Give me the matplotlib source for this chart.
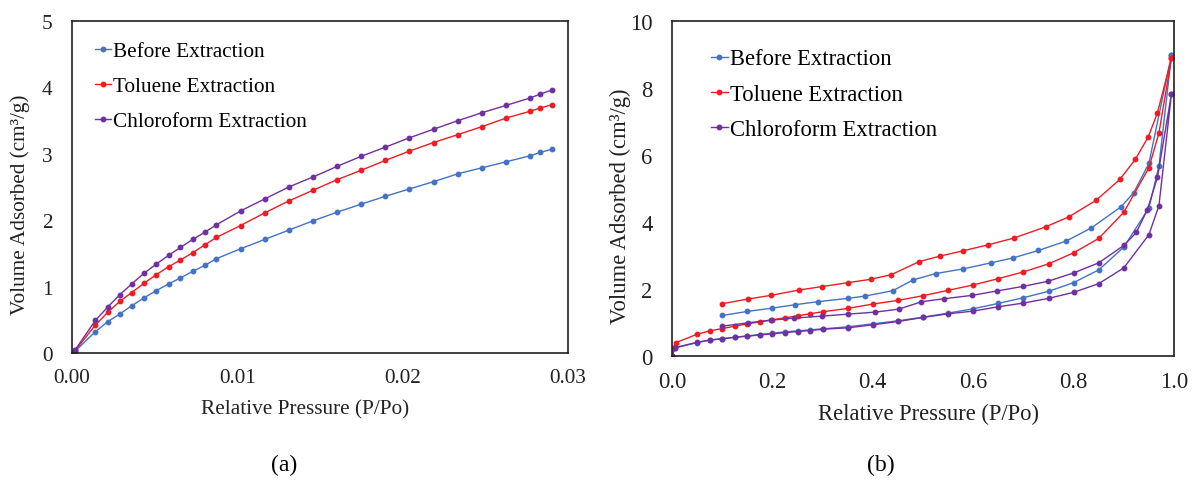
import matplotlib
matplotlib.use("Agg")
import matplotlib.pyplot as plt

plt.rcParams["font.family"] = ["Liberation Serif", "DejaVu Serif"]

# (a) low pressure region
a_x = [0, 0.0002, 0.00141, 0.00215, 0.0029, 0.00361, 0.00435, 0.0051, 0.00584,
       0.00656, 0.0073, 0.00804, 0.00873, 0.0102, 0.01165, 0.01311, 0.01457,
       0.01603, 0.01747, 0.01895, 0.0204, 0.02187, 0.02335, 0.02481, 0.02627,
       0.0277, 0.02833, 0.02902]
a_before = [0, 0.03, 0.32, 0.47, 0.59, 0.71, 0.83, 0.94, 1.04, 1.13, 1.23, 1.32,
            1.42, 1.57, 1.71, 1.85, 1.99, 2.12, 2.24, 2.36, 2.47, 2.58, 2.70,
            2.79, 2.88, 2.97, 3.02, 3.07]
a_toluene = [0, 0.04, 0.42, 0.61, 0.78, 0.91, 1.05, 1.18, 1.30, 1.40, 1.51, 1.63,
             1.74, 1.92, 2.11, 2.29, 2.45, 2.61, 2.75, 2.90, 3.04, 3.17, 3.29,
             3.41, 3.54, 3.64, 3.69, 3.74]
a_chloro = [0, 0.05, 0.49, 0.69, 0.88, 1.04, 1.20, 1.34, 1.47, 1.59, 1.71, 1.82,
            1.93, 2.14, 2.32, 2.50, 2.65, 2.81, 2.96, 3.10, 3.24, 3.37, 3.50,
            3.62, 3.73, 3.84, 3.90, 3.96]

# (b) full isotherms: adsorption branch then desorption branch
before_ads_x = [0, 0.006, 0.05, 0.075, 0.1, 0.125, 0.15, 0.175, 0.2, 0.225, 0.25,
                0.275, 0.3, 0.35, 0.4, 0.45, 0.5, 0.55, 0.6, 0.65, 0.7, 0.75,
                0.8, 0.85, 0.9, 0.95, 0.97, 0.995]
before_ads_y = [0, 0.24, 0.40, 0.47, 0.52, 0.56, 0.60, 0.64, 0.68, 0.72, 0.75,
                0.78, 0.81, 0.87, 0.96, 1.05, 1.16, 1.28, 1.41, 1.57, 1.74, 1.93,
                2.19, 2.57, 3.25, 4.42, 5.67, 8.99]
before_des_x = [0.995, 0.95, 0.92, 0.895, 0.835, 0.785, 0.73, 0.68, 0.635, 0.58,
                0.525, 0.48, 0.44, 0.385, 0.35, 0.29, 0.245, 0.2, 0.15, 0.1]
before_des_y = [8.99, 5.75, 4.88, 4.46, 3.82, 3.43, 3.15, 2.93, 2.78, 2.60,
                2.46, 2.27, 1.95, 1.79, 1.72, 1.62, 1.53, 1.43, 1.33, 1.21]

toluene_ads_x = [0, 0.002, 0.008, 0.05, 0.075, 0.1, 0.125, 0.15, 0.175, 0.2,
                 0.225, 0.25, 0.275, 0.3, 0.35, 0.4, 0.45, 0.5, 0.55, 0.6, 0.65,
                 0.7, 0.75, 0.8, 0.85, 0.9, 0.95, 0.97, 0.995]
toluene_ads_y = [0, 0.25, 0.40, 0.65, 0.75, 0.82, 0.89, 0.96, 1.02, 1.08, 1.14,
                 1.20, 1.26, 1.32, 1.42, 1.55, 1.66, 1.80, 1.96, 2.12, 2.31,
                 2.51, 2.75, 3.08, 3.51, 4.29, 5.62, 6.66, 8.89]
toluene_des_x = [0.995, 0.967, 0.949, 0.923, 0.892, 0.845, 0.79, 0.745, 0.681,
                 0.63, 0.58, 0.533, 0.493, 0.437, 0.396, 0.351, 0.298, 0.253,
                 0.197, 0.151, 0.1]
toluene_des_y = [8.89, 7.26, 6.55, 5.87, 5.27, 4.65, 4.15, 3.86, 3.52, 3.32,
                 3.14, 2.98, 2.82, 2.43, 2.29, 2.19, 2.07, 1.97, 1.81, 1.70, 1.56]

chloro_ads_x = [0, 0.006, 0.05, 0.075, 0.1, 0.125, 0.15, 0.175, 0.2, 0.225, 0.25,
                0.275, 0.3, 0.35, 0.4, 0.45, 0.5, 0.55, 0.6, 0.65, 0.7, 0.75,
                0.8, 0.85, 0.9, 0.95, 0.97, 0.995]
chloro_ads_y = [0, 0.25, 0.41, 0.48, 0.51, 0.56, 0.59, 0.63, 0.66, 0.70, 0.73,
                0.76, 0.80, 0.84, 0.93, 1.03, 1.15, 1.26, 1.34, 1.47, 1.58, 1.72,
                1.90, 2.16, 2.63, 3.62, 4.49, 7.83]
chloro_des_x = [0.995, 0.967, 0.947, 0.925, 0.9, 0.85, 0.8, 0.749, 0.7, 0.647,
                0.598, 0.542, 0.497, 0.452, 0.405, 0.351, 0.298, 0.243, 0.197,
                0.151, 0.1]
chloro_des_y = [7.83, 5.33, 4.37, 3.69, 3.30, 2.78, 2.48, 2.23, 2.08, 1.94,
                1.81, 1.71, 1.62, 1.40, 1.31, 1.25, 1.19, 1.13, 1.07, 0.99, 0.89]

labels = ["Before Extraction", "Toluene Extraction", "Chloroform Extraction"]
colors = ["#4472C4", "#EE1C25", "#7030A0"]

W, H = 1193, 485
fig = plt.figure(figsize=(W / 100, H / 100), dpi=100)

ax_a = fig.add_axes([72 / W, 1 - 354 / H, 496 / W, 332 / H])
ax_b = fig.add_axes([672 / W, 1 - 357 / H, 502 / W, 335 / H])

line_kw = dict(lw=1.0, marker="o", ms=3.2)

for ys, lab, c in zip([a_before, a_toluene, a_chloro], labels, colors):
    ax_a.plot(a_x, ys, color=c, label=lab, **line_kw)

b_series = [
    (before_ads_x + before_des_x, before_ads_y + before_des_y),
    (toluene_ads_x + toluene_des_x, toluene_ads_y + toluene_des_y),
    (chloro_ads_x + chloro_des_x, chloro_ads_y + chloro_des_y),
]
for (xs, ys), lab, c in zip(b_series, labels, colors):
    ax_b.plot(xs, ys, color=c, label=lab, **line_kw)


def style(ax, fs, xlim, xticks, xfmt, ylim, yticks, ylab_x, xlab_pos):
    ax.set_xlim(*xlim)
    ax.set_ylim(*ylim)
    ax.set_xticks(xticks)
    ax.set_xticklabels([xfmt.format(v) for v in xticks])
    ax.set_yticks(yticks)
    ax.tick_params(length=0, labelsize=fs, colors="#222222")
    ax.tick_params(axis="x", pad=11)
    ax.tick_params(axis="y", pad=14)
    for s in ax.spines.values():
        s.set_linewidth(1.2)
        s.set_color("#202020")
    ax.set_xlabel("Relative Pressure (P/Po)", fontsize=fs, color="#222222")
    ax.set_ylabel("Volume Adsorbed (cm³/g)", fontsize=fs, color="#222222")
    ax.yaxis.set_label_coords(ylab_x, 0.45)
    ax.xaxis.set_label_coords(*xlab_pos)


style(ax_a, 15.3, (0, 0.03), [0, 0.01, 0.02, 0.03], "{:.2f}", (0, 5),
      [0, 1, 2, 3, 4, 5], -0.085, (0.47, -0.14))
style(ax_b, 16.3, (0, 1.0), [0, 0.2, 0.4, 0.6, 0.8, 1.0], "{:.1f}", (0, 10),
      [0, 2, 4, 6, 8, 10], -0.082, (0.51, -0.14))

ax_a.legend(loc="upper left", bbox_to_anchor=(0.029, 0.965), borderaxespad=0,
            frameon=False, fontsize=15.3, handlelength=0.75, handletextpad=0.1,
            labelspacing=0.72)
ax_b.legend(loc="upper left", bbox_to_anchor=(0.059, 0.945), borderaxespad=0,
            frameon=False, fontsize=16.3, handlelength=0.75, handletextpad=0.1,
            labelspacing=0.62)

fig.text(284 / W, 1 - 465 / H, "(a)", fontsize=17, ha="center", va="center")
fig.text(881 / W, 1 - 465 / H, "(b)", fontsize=17, ha="center", va="center")

fig.savefig("out.png", dpi=100)
